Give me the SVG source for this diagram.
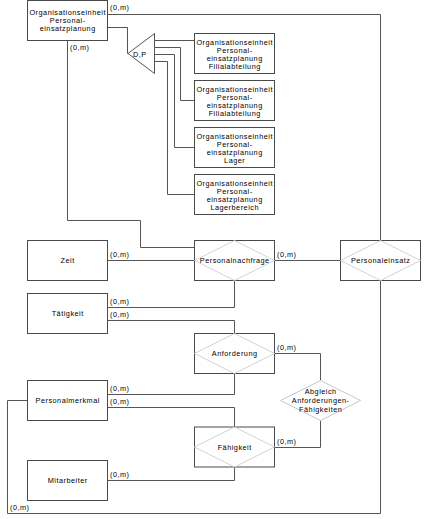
<svg xmlns="http://www.w3.org/2000/svg" width="426" height="519" viewBox="0 0 426 519">
<style>
.box{fill:#fff;stroke:#4a4a4a;stroke-width:1}
.dia{fill:none;stroke:#d4d4d4;stroke-width:1}
.ln{fill:none;stroke:#555;stroke-width:1}
text{font-family:"Liberation Sans",Arial,sans-serif;font-size:7.3px;letter-spacing:0.5px;fill:#000}
.c{text-anchor:middle}
</style>
<rect width="426" height="519" fill="#fff"/>
<g id="connectors">
<polyline class="ln" points="107,14.5 380.5,14.5 380.5,240.5"/>
<polyline class="ln" points="67.5,40.5 67.5,220.5 140.5,220.5 140.5,247.5 194,247.5"/>
<polyline class="ln" points="107,27.5 127.5,27.5 127.5,53.5 128,53.5"/>
<polyline class="ln" points="154.5,40.5 194,40.5"/>
<polyline class="ln" points="154.5,47.5 180.5,47.5 180.5,100.5 194,100.5"/>
<polyline class="ln" points="154.5,54.5 174.5,54.5 174.5,147.5 194,147.5"/>
<polyline class="ln" points="154.5,61.5 167.5,61.5 167.5,194.5 194,194.5"/>
<polyline class="ln" points="107,260.5 194,260.5"/>
<polyline class="ln" points="274,260.5 340,260.5"/>
<polyline class="ln" points="234.5,280.5 234.5,307.5 107,307.5"/>
<polyline class="ln" points="107,320.5 234.5,320.5 234.5,333.5"/>
<polyline class="ln" points="274,353.5 320.5,353.5 320.5,380.5"/>
<polyline class="ln" points="234.5,373.5 234.5,394.5 107,394.5"/>
<polyline class="ln" points="107,407.5 234.5,407.5 234.5,427"/>
<polyline class="ln" points="320.5,420.5 320.5,447.5 274,447.5"/>
<polyline class="ln" points="234.5,467 234.5,480.5 107,480.5"/>
<polyline class="ln" points="380.5,280.5 380.5,513.5 7.5,513.5 7.5,400.5 27.5,400.5"/>
</g>
<g id="labels">
<text x="110" y="10">(0,m)</text>
<text x="70" y="50">(0,m)</text>
<text x="110" y="256.5">(0,m)</text>
<text x="277" y="256.5">(0,m)</text>
<text x="110" y="303.5">(0,m)</text>
<text x="110" y="316.5">(0,m)</text>
<text x="277" y="349.5">(0,m)</text>
<text x="110" y="390.5">(0,m)</text>
<text x="110" y="403.5">(0,m)</text>
<text x="277" y="443.5">(0,m)</text>
<text x="110" y="476.5">(0,m)</text>
<text x="10" y="510">(0,m)</text>
</g>
<g id="org-top">
<rect class="box" x="27.5" y="0.5" width="80" height="40"/>
<text class="c" x="67.7" y="15">Organisationseinheit</text>
<text class="c" x="67.7" y="23.2">Personal-</text>
<text class="c" x="67.7" y="31.4">einsatzplanung</text>
</g>
<g id="dp">
<polygon points="128,53.5 154.5,33.5 154.5,73.5" fill="#fff" stroke="#555" stroke-width="1"/>
<text x="133" y="56.5">D,P</text>
</g>
<g id="org-filial1">
<rect class="box" x="194.5" y="33.5" width="80" height="40"/>
<text class="c" x="234.7" y="44.5">Organisationseinheit</text>
<text class="c" x="234.7" y="52.7">Personal-</text>
<text class="c" x="234.7" y="60.9">einsatzplanung</text>
<text class="c" x="234.7" y="69.1">Filialabteilung</text>
</g>
<g id="org-filial2">
<rect class="box" x="194.5" y="80.5" width="80" height="40"/>
<text class="c" x="234.7" y="91.5">Organisationseinheit</text>
<text class="c" x="234.7" y="99.7">Personal-</text>
<text class="c" x="234.7" y="107.9">einsatzplanung</text>
<text class="c" x="234.7" y="116.1">Filialabteilung</text>
</g>
<g id="org-lager">
<rect class="box" x="194.5" y="127.5" width="80" height="40"/>
<text class="c" x="234.7" y="138.5">Organisationseinheit</text>
<text class="c" x="234.7" y="146.7">Personal-</text>
<text class="c" x="234.7" y="154.9">einsatzplanung</text>
<text class="c" x="234.7" y="163.1">Lager</text>
</g>
<g id="org-lagerbereich">
<rect class="box" x="194.5" y="174.5" width="80" height="40"/>
<text class="c" x="234.7" y="185.5">Organisationseinheit</text>
<text class="c" x="234.7" y="193.7">Personal-</text>
<text class="c" x="234.7" y="201.9">einsatzplanung</text>
<text class="c" x="234.7" y="210.1">Lagerbereich</text>
</g>
<g id="zeit">
<rect class="box" x="27.5" y="240.5" width="80" height="40"/>
<text class="c" x="67.7" y="263.3">Zeit</text>
</g>
<g id="personalnachfrage">
<rect class="box" x="194.5" y="240.5" width="80" height="40"/>
<polygon class="dia" points="194.5,260.5 234.5,240.5 274.5,260.5 234.5,280.5"/>
<text class="c" x="234.7" y="263.3">Personalnachfrage</text>
</g>
<g id="personaleinsatz">
<rect class="box" x="340.5" y="240.5" width="80" height="40"/>
<polygon class="dia" points="340.5,260.5 380.5,240.5 420.5,260.5 380.5,280.5"/>
<text class="c" x="380.7" y="263.3">Personaleinsatz</text>
</g>
<g id="taetigkeit">
<rect class="box" x="27.5" y="293.5" width="80" height="40"/>
<text class="c" x="67.7" y="316.3">Tätigkeit</text>
</g>
<g id="anforderung">
<rect class="box" x="194.5" y="333.5" width="80" height="40"/>
<polygon class="dia" points="194.5,353.5 234.5,333.5 274.5,353.5 234.5,373.5"/>
<text class="c" x="234.7" y="356.3">Anforderung</text>
</g>
<g id="abgleich">
<polygon points="280.5,400.5 320.5,380.5 360.5,400.5 320.5,420.5" fill="#fff" stroke="#c8c8c8" stroke-width="1"/>
<text class="c" x="320.7" y="394.4">Abgleich</text>
<text class="c" x="320.7" y="403.2">Anforderungen-</text>
<text class="c" x="320.7" y="412">Fähigkeiten</text>
</g>
<g id="personalmerkmal">
<rect class="box" x="27.5" y="380.5" width="80" height="40"/>
<text class="c" x="67.7" y="403.3">Personalmerkmal</text>
</g>
<g id="faehigkeit">
<rect class="box" x="194.5" y="427" width="80" height="40"/>
<polygon class="dia" points="194.5,447 234.5,427 274.5,447 234.5,467"/>
<text class="c" x="234.7" y="449.8">Fähigkeit</text>
</g>
<g id="mitarbeiter">
<rect class="box" x="27.5" y="460.5" width="80" height="40"/>
<text class="c" x="67.7" y="483.3">Mitarbeiter</text>
</g>
</svg>
